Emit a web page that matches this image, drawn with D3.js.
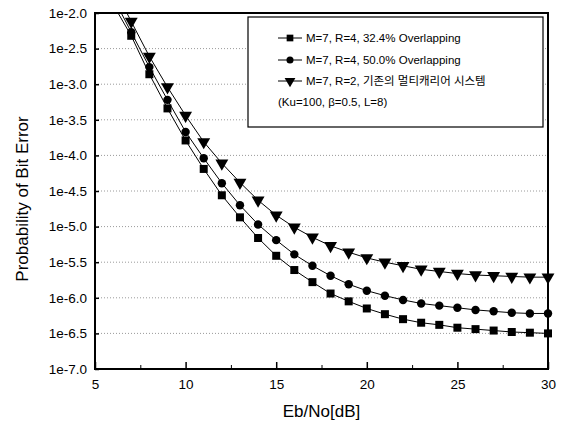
<!DOCTYPE html>
<html>
<head>
<meta charset="utf-8">
<script src="https://cdn.jsdelivr.net/npm/d3@7"></script>
<style>
  html, body { margin: 0; padding: 0; background: #fff; }
  svg { display: block; font-family: "Liberation Sans", Arial, sans-serif; }
</style>
</head>
<body>
<svg id="chart" width="561" height="428"></svg>
<script>
// ---- data (y values are log10 of bit error probability) ----
const ebno = [6,7,8,9,10,11,12,13,14,15,16,17,18,19,20,21,22,23,24,25,26,27,28,29,30];
const overlap324 = [-1.88,-2.32,-2.86,-3.34,-3.79,-4.19,-4.56,-4.87,-5.16,-5.41,-5.61,-5.78,-5.94,-6.05,-6.15,-6.23,-6.30,-6.35,-6.38,-6.42,-6.44,-6.46,-6.48,-6.49,-6.50];
const overlap500 = [-1.78,-2.27,-2.76,-3.22,-3.67,-4.04,-4.39,-4.70,-4.97,-5.19,-5.39,-5.55,-5.69,-5.81,-5.90,-5.97,-6.03,-6.08,-6.11,-6.14,-6.17,-6.19,-6.21,-6.22,-6.22];
const conventional = [-1.62,-2.12,-2.61,-3.04,-3.44,-3.81,-4.11,-4.38,-4.63,-4.84,-5.01,-5.15,-5.27,-5.36,-5.44,-5.50,-5.55,-5.60,-5.63,-5.66,-5.68,-5.69,-5.70,-5.71,-5.71];
const seriesNames = [
  "M=7, R=4, 32.4% Overlapping",
  "M=7, R=4, 50.0% Overlapping",
  "M=7, R=2, 기존의 멀티캐리어 시스템"
];
const noteText = "(Ku=100, β=0.5, L=8)";
const xTicks = [5,10,15,20,25,30];
const xMinorTicks = [7.5,12.5,17.5,22.5,27.5];
const yTicks = [-7,-6.5,-6,-5.5,-5,-4.5,-4,-3.5,-3,-2.5,-2];
const xTitle = "Eb/No[dB]";
const yTitle = "Probability of Bit Error";

// ---- layout ----
const L = 95, R = 548, T = 13, B = 369;
const svg = d3.select("#chart");
const x = d3.scaleLinear().domain([5,30]).range([L,R]);
const y = d3.scaleLinear().domain([-7,-2]).range([B,T]);

// grid
svg.append("g").selectAll("line")
  .data(yTicks.filter(v => v > -7 && v < -2))
  .join("line")
  .attr("x1", L).attr("x2", R)
  .attr("y1", d => y(d)).attr("y2", d => y(d))
  .attr("stroke", "#9a9a9a").attr("stroke-width", 1)
  .attr("stroke-dasharray", "1,2");

// axes
const axL = svg.append("g").attr("transform", `translate(${L},0)`)
  .call(d3.axisLeft(y).tickValues(yTicks).tickSize(-4).tickPadding(8)
    .tickFormat(v => "1e" + v.toFixed(1)));
const axB = svg.append("g").attr("transform", `translate(0,${B})`)
  .call(d3.axisBottom(x).tickValues(xTicks).tickSize(-7).tickPadding(10).tickFormat(d3.format("d")));
svg.append("g").attr("transform", `translate(0,${B})`)
  .call(d3.axisBottom(x).tickValues(xMinorTicks).tickSize(-4).tickFormat(""))
  .call(g => g.select(".domain").remove());
[axL, axB].forEach(g => {
  g.select(".domain").remove();
  g.selectAll("text").attr("font-size", 13.5).attr("fill", "#000")
    .attr("font-family", "Liberation Sans, Arial, sans-serif");
  g.selectAll("line").attr("stroke", "#000").attr("stroke-width", 1.5);
});

// clip
svg.append("clipPath").attr("id", "clip")
  .append("rect").attr("x", L - 10).attr("y", T).attr("width", R - L + 20).attr("height", B - T);

const plot = svg.append("g").attr("clip-path", "url(#clip)");
const line = d3.line().x(d => x(d[0])).y(d => y(d[1]));
const allSeries = [overlap324, overlap500, conventional];
const shapes = [d3.symbolSquare, d3.symbolCircle, d3.symbolTriangle];
const sizes = [64, 56, 72];
const rot = [0, 0, 180];

allSeries.forEach((vals, i) => {
  const pts = ebno.map((e, k) => [e, vals[k]]);
  plot.append("path").datum(pts).attr("d", line)
    .attr("fill", "none").attr("stroke", "#000").attr("stroke-width", 1);
  plot.append("g").selectAll("path").data(pts).join("path")
    .attr("d", d3.symbol().type(shapes[i]).size(sizes[i]))
    .attr("transform", d => `translate(${x(d[0])},${y(d[1])}) rotate(${rot[i]})`)
    .attr("fill", "#000");
});

// frame
svg.append("rect").attr("x", L).attr("y", T).attr("width", R - L).attr("height", B - T)
  .attr("fill", "none").attr("stroke", "#000").attr("stroke-width", 2);

// legend
const lg = svg.append("g");
lg.append("rect").attr("x", 248).attr("y", 17).attr("width", 295).attr("height", 110)
  .attr("fill", "#fff").attr("stroke", "#000").attr("stroke-width", 1.2);
const rowY = [38, 60, 81];
seriesNames.forEach((name, i) => {
  const yy = rowY[i];
  lg.append("line").attr("x1", 278).attr("x2", 302).attr("y1", yy).attr("y2", yy)
    .attr("stroke", "#000").attr("stroke-width", 1);
  lg.append("path").attr("d", d3.symbol().type(shapes[i]).size(sizes[i] * 0.7))
    .attr("transform", `translate(290,${yy}) rotate(${rot[i]})`).attr("fill", "#000");
  lg.append("text").attr("x", 306).attr("y", yy).attr("dy", "0.35em")
    .attr("font-size", 11.5)
    .attr("font-family", "Liberation Sans, Arial, 'Noto Sans CJK KR', sans-serif")
    .text(name);
});
lg.append("text").attr("x", 278).attr("y", 102).attr("dy", "0.35em")
  .attr("font-size", 11.5).text(noteText);

// titles
svg.append("text").attr("x", (L + R) / 2).attr("y", 411).attr("dy", "0.35em")
  .attr("text-anchor", "middle").attr("font-size", 17).text(xTitle);
svg.append("text").attr("transform", `translate(22,199) rotate(-90)`)
  .attr("dy", "0.35em").attr("text-anchor", "middle").attr("font-size", 17).text(yTitle);
</script>
</body>
</html>
